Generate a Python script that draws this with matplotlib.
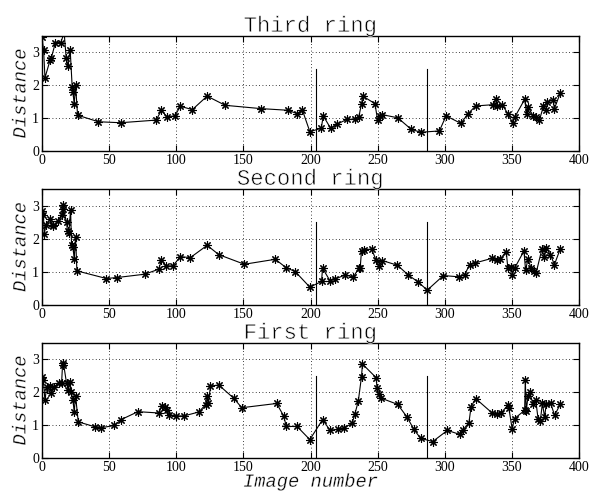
import matplotlib.pyplot as plt
import numpy as np
from matplotlib.patheffects import AbstractPathEffect

# ---- data ----
third_x = [0, 1.2, 2.2, 6, 7, 10, 14, 16.5, 18, 19, 21, 22.5, 23, 24, 25, 26.5,
           42, 58.5, 85, 89, 93, 99, 103, 112, 123, 136.5, 163, 183, 190, 194,
           199.5, 208, 209.5, 215, 220, 227, 233, 236, 238, 239, 248, 250, 251.5, 253,
           265, 275, 282, 296, 301, 312, 317.5, 323, 336, 338, 339, 343, 347, 350.5,
           352, 359.5, 361, 362, 366, 368, 370.5, 373.5, 375.5, 376.5, 381, 381.5, 386]
third_y = [3.47, 3.06, 2.23, 2.76, 2.84, 3.3, 3.3, 3.6, 2.84, 2.58, 3.07, 1.94, 1.8, 1.43, 2.0, 1.09,
           0.89, 0.86, 0.94, 1.24, 1.04, 1.07, 1.36, 1.26, 1.67, 1.39, 1.29, 1.24, 1.14, 1.24,
           0.59, 0.69, 1.07, 0.69, 0.82, 0.96, 0.97, 1.04, 1.44, 1.67, 1.44, 0.94, 1.06, 1.11,
           1.01, 0.66, 0.57, 0.61, 1.07, 0.84, 1.14, 1.37, 1.41, 1.58, 1.38, 1.39, 1.14, 0.86,
           1.02, 1.57, 1.14, 1.34, 1.06, 1.02, 0.94, 1.36, 1.24, 1.49, 1.56, 1.27, 1.76]

second_x = [0, 1, 1.7, 3, 6, 8, 8.4, 12, 14.6, 16, 16, 18.3, 19, 20, 21.3, 22, 23, 24, 25, 26,
            48, 56, 76.5, 87, 89, 92.5, 97.5, 103, 110.5, 123, 131.7, 150.7, 173.8, 181.7, 188.6,
            199.5, 208.2, 209, 214.4, 218.6, 226, 231.8, 236, 237, 238, 239.8, 245.5, 248.8, 251,
            253.6, 264.8, 272.7, 280, 287, 299, 310.6, 314.8, 318.5, 322.7, 335.3, 338.9, 341.3,
            345.8, 347, 349.5, 350.2, 352, 359, 360.2, 362, 364.4, 366.4, 368, 372.4, 374.3,
            375.5, 378.7, 381.7, 386]
second_y = [2.83, 2.73, 2.15, 2.42, 2.58, 2.42, 2.37, 2.52, 2.73, 3.03, 2.9, 2.49, 2.22, 2.17, 2.88,
            1.8, 1.75, 1.4, 2.06, 1.03,
            0.8, 0.83, 0.93, 1.08, 1.36, 1.18, 1.18, 1.46, 1.43, 1.8, 1.52, 1.23, 1.38, 1.13, 1.01,
            0.54, 0.71, 1.11, 0.74, 0.79, 0.91, 0.84, 1.11, 1.11, 1.64, 1.66, 1.69, 1.36, 1.18,
            1.34, 1.2, 0.91, 0.7, 0.45, 0.89, 0.85, 0.91, 1.22, 1.27, 1.41, 1.36, 1.39,
            1.61, 1.11, 1.16, 0.91, 1.11, 1.63, 1.06, 1.38, 1.11, 1.03, 0.96, 1.69, 1.44,
            1.72, 1.52, 1.22, 1.69]

first_x = [0, 1, 2.2, 3.5, 6, 7, 9, 12.9, 14.6, 15.3, 16, 18.3, 19.6, 21, 21.5, 23, 24, 25, 27,
           39.4, 43.8, 54, 59, 71.5, 87, 89.4, 91.3, 93.3, 94.3, 100, 105.7, 116.8, 121.8, 122.8,
           124, 125.5, 131.7, 142.8, 148.8, 174.8, 180, 182, 190, 199.5, 209, 214.4, 220.5,
           224.8, 231, 233, 235.6, 238, 238.7, 249, 249.5, 250.7, 252.7, 265, 272, 277, 282,
           291, 302, 311, 313.4, 318, 319.6, 323, 335.3, 338.9, 342, 347, 347.8, 350.2, 352,
           359.5, 360, 360.7, 362, 363.3, 365.8, 367.7, 369.5, 371.2, 372.7, 374.4, 375.6,
           378.8, 381.8, 386]
first_y = [2.45, 2.37, 1.75, 2.17, 2.2, 1.97, 2.17, 2.29, 2.29, 2.83, 2.88, 2.27, 2.07, 2.32, 2.02,
           1.77, 1.41, 1.89, 1.1,
           0.95, 0.92, 0.99, 1.17, 1.41, 1.37, 1.59, 1.55, 1.47, 1.32, 1.28, 1.28, 1.4, 1.62, 1.89,
           1.67, 2.19, 2.22, 1.82, 1.53, 1.66, 1.28, 0.96, 0.96, 0.56, 1.17, 0.85, 0.87,
           0.92, 1.05, 1.33, 1.73, 2.48, 2.86, 2.44, 2.12, 1.94, 1.82, 1.63, 1.24, 0.87, 0.6,
           0.5, 0.84, 0.72, 0.85, 1.07, 1.56, 1.81, 1.37, 1.33, 1.37, 1.61, 1.51, 0.89, 1.2,
           1.45, 2.38, 1.42, 1.88, 2.0, 1.63, 1.78, 1.2, 1.13, 1.66, 1.25, 1.64,
           1.68, 1.3, 1.63]

titles = ["Third ring", "Second ring", "First ring"]
series = [(third_x, third_y), (second_x, second_y), (first_x, first_y)]
marks = [204, 287]      # vertical separators
mark_h = 2.5

mono = "Liberation Mono"
serif = "Liberation Serif"


class Thin(AbstractPathEffect):
    """draw glyphs, then shave the outline with white -> lighter courier look"""
    def __init__(self, lw=0.7):
        super().__init__()
        self.lw = lw

    def draw_path(self, renderer, gc, tpath, affine, rgbFace=None):
        renderer.draw_path(gc, tpath, affine, rgbFace)
        gc0 = renderer.new_gc()
        gc0.copy_properties(gc)
        gc0.set_foreground('white')
        gc0.set_linewidth(self.lw)
        renderer.draw_path(gc0, tpath, affine, None)
        gc0.restore()


fig = plt.figure(figsize=(6, 4.96), dpi=100)
boxes = [[0.07, 0.6956, 0.895, 0.2318],
         [0.07, 0.385, 0.895, 0.234],
         [0.07, 0.0766, 0.895, 0.2319]]

for i, (box, title, (xs, ys)) in enumerate(zip(boxes, titles, series)):
    ax = fig.add_axes(box)
    # matlab-style asterisk: 8 spokes
    ax.plot(xs, ys, '-', color='black', lw=0.8, marker=(8, 2, 0), ms=6, mew=0.8)
    for m in marks:
        ax.plot([m, m], [0, mark_h], color='black', lw=0.8)
    ax.set_xlim(0, 400)
    ax.set_ylim(0, 3.5)
    ax.set_xticks(np.arange(0, 401, 50))
    ax.set_yticks([0, 1, 2, 3])
    ax.grid(True, linestyle=(0, (1, 3)), color='black', lw=0.6)
    ax.tick_params(direction='in', top=True, right=True, length=4, width=0.8,
                   labelsize=10, pad=2)
    for lab in ax.get_xticklabels() + ax.get_yticklabels():
        lab.set_fontfamily(serif)
    for s in ax.spines.values():
        s.set_linewidth(1.0)
    ax.set_title(title, fontfamily=mono, fontsize=16, pad=3, path_effects=[Thin(0.45)])
    ax.set_ylabel("Distance", fontfamily=mono, fontstyle='italic', fontsize=13.5, labelpad=2,
                  path_effects=[Thin(0.25)])
    if i == 2:
        ax.set_xlabel("Image number", fontfamily=mono, fontstyle='italic', fontsize=13.5,
                      labelpad=0, path_effects=[Thin(0.25)])

fig.savefig("out.png", dpi=100)
